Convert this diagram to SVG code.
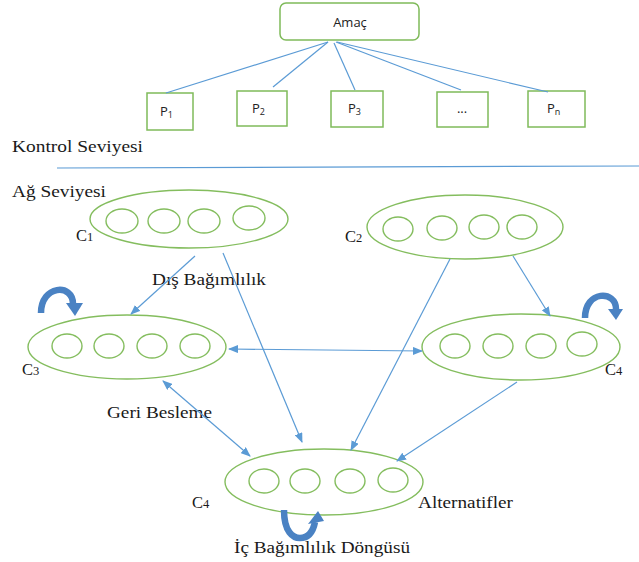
<svg xmlns="http://www.w3.org/2000/svg" width="639" height="562" viewBox="0 0 639 562">
  <style>
    .box { fill: #ffffff; stroke: #7fba5a; stroke-width: 1.5; }
    .ell { fill: none; stroke: #84bd5e; stroke-width: 1.4; }
    .link { fill: none; stroke: #5b9bd5; stroke-width: 1.2; }
    .loop { fill: none; stroke: #4a82c3; stroke-width: 6.5; }
    .head { fill: #4a82c3; }
    .sans { font-family: "Open Sans", "Noto Sans", "Liberation Sans", sans-serif; font-size: 13px; fill: #222; }
    .serif { font-family: "Liberation Serif", "DejaVu Serif", serif; font-size: 16.5px; fill: #1a1a1a; }
  </style>
  <defs>
    <marker id="arr" markerWidth="10" markerHeight="8" refX="9" refY="4" orient="auto-start-reverse" markerUnits="userSpaceOnUse">
      <path d="M0,0 L10,4 L0,8 z" fill="#5b9bd5"/>
    </marker>
  </defs>
  <rect width="639" height="562" fill="#ffffff"/>

  <!-- control level -->
  <g id="amac">
    <rect class="box" x="280" y="3" width="139" height="37" rx="6"/>
    <text class="sans" x="350" y="27" text-anchor="middle">Amaç</text>
  </g>
  <g id="p1">
    <rect class="box" x="147" y="93" width="46" height="37"/>
    <text class="sans" x="160" y="116">P<tspan font-size="9" dy="2">1</tspan></text>
  </g>
  <g id="p2">
    <rect class="box" x="237" y="91" width="50" height="35"/>
    <text class="sans" x="252" y="113">P<tspan font-size="9" dy="2">2</tspan></text>
  </g>
  <g id="p3">
    <rect class="box" x="331" y="91" width="52" height="36"/>
    <text class="sans" x="348" y="113">P<tspan font-size="9" dy="2">3</tspan></text>
  </g>
  <g id="pdots">
    <rect class="box" x="437" y="92" width="51" height="35"/>
    <text class="sans" x="462" y="113" text-anchor="middle">...</text>
  </g>
  <g id="pn">
    <rect class="box" x="528" y="91" width="57" height="36"/>
    <text class="sans" x="547" y="113">P<tspan font-size="9" dy="2">n</tspan></text>
  </g>

  <text class="serif" x="12" y="152" textLength="131" lengthAdjust="spacingAndGlyphs">Kontrol Seviyesi</text>
  <line x1="57" y1="168" x2="639" y2="166" stroke="#5b9bd5" stroke-width="1.2"/>
  <text class="serif" x="12" y="197" textLength="94" lengthAdjust="spacingAndGlyphs">Ağ Seviyesi</text>

  <!-- network clusters -->
  <g id="c1">
    <ellipse class="ell" cx="189" cy="219" rx="99" ry="29"/>
    <ellipse class="ell" cx="122" cy="221" rx="16" ry="12"/>
    <ellipse class="ell" cx="164" cy="221" rx="16" ry="12"/>
    <ellipse class="ell" cx="204" cy="221" rx="16" ry="12"/>
    <ellipse class="ell" cx="249" cy="218" rx="16" ry="12"/>
    <text class="serif" x="76" y="241">C<tspan font-size="12.5">1</tspan></text>
  </g>
  <g id="c2">
    <ellipse class="ell" cx="465" cy="227" rx="98" ry="32"/>
    <ellipse class="ell" cx="398" cy="229" rx="15" ry="12"/>
    <ellipse class="ell" cx="442" cy="228" rx="15" ry="12"/>
    <ellipse class="ell" cx="484" cy="227" rx="15" ry="12"/>
    <ellipse class="ell" cx="522" cy="227" rx="15" ry="12"/>
    <text class="serif" x="345" y="242">C<tspan font-size="12.5">2</tspan></text>
  </g>
  <g id="c3">
    <ellipse class="ell" cx="127" cy="347" rx="99" ry="32"/>
    <ellipse class="ell" cx="67" cy="346" rx="15" ry="12"/>
    <ellipse class="ell" cx="109" cy="346" rx="15" ry="12"/>
    <ellipse class="ell" cx="152" cy="346" rx="15" ry="12"/>
    <ellipse class="ell" cx="195" cy="346" rx="15" ry="12"/>
    <text class="serif" x="22" y="375">C<tspan font-size="12.5">3</tspan></text>
  </g>
  <g id="c4-right">
    <ellipse class="ell" cx="521" cy="347" rx="99" ry="33"/>
    <ellipse class="ell" cx="455" cy="346" rx="15" ry="12"/>
    <ellipse class="ell" cx="498" cy="346" rx="15" ry="12"/>
    <ellipse class="ell" cx="541" cy="346" rx="15" ry="12"/>
    <ellipse class="ell" cx="582" cy="344" rx="15" ry="12"/>
    <text class="serif" x="605" y="375">C<tspan font-size="12.5">4</tspan></text>
  </g>
  <g id="c4-bottom">
    <ellipse class="ell" cx="324" cy="482" rx="99" ry="33"/>
    <ellipse class="ell" cx="264" cy="481" rx="15" ry="12"/>
    <ellipse class="ell" cx="305" cy="481" rx="15" ry="12"/>
    <ellipse class="ell" cx="350" cy="481" rx="15" ry="12"/>
    <ellipse class="ell" cx="393" cy="480" rx="15" ry="12"/>
    <text class="serif" x="192" y="508">C<tspan font-size="12.5">4</tspan></text>
  </g>

  <!-- labels -->
  <text class="serif" x="152" y="285" textLength="114" lengthAdjust="spacingAndGlyphs">Dış Bağımlılık</text>
  <text class="serif" x="107" y="418" textLength="105" lengthAdjust="spacingAndGlyphs">Geri Besleme</text>
  <text class="serif" x="418" y="508" textLength="95" lengthAdjust="spacingAndGlyphs">Alternatifler</text>
  <text class="serif" x="234" y="553" textLength="176" lengthAdjust="spacingAndGlyphs">İç Bağımlılık Döngüsü</text>

  <!-- connectors -->
  <g id="connectors">
    <line class="link" x1="328" y1="42" x2="166" y2="93"/>
    <line class="link" x1="328" y1="42" x2="273" y2="87"/>
    <line class="link" x1="334" y1="43" x2="355" y2="90"/>
    <line class="link" x1="336" y1="42" x2="461" y2="90"/>
    <line class="link" x1="337" y1="42" x2="548" y2="92"/>

    <line class="link" x1="195" y1="256" x2="131" y2="314" marker-end="url(#arr)"/>
    <line class="link" x1="223" y1="253" x2="302" y2="442" marker-end="url(#arr)"/>
    <line class="link" x1="513" y1="256" x2="550" y2="316" marker-end="url(#arr)"/>
    <line class="link" x1="450" y1="259" x2="351" y2="450" marker-end="url(#arr)"/>
    <line class="link" x1="517" y1="382" x2="397" y2="461" marker-end="url(#arr)"/>
    <line class="link" x1="229" y1="349" x2="422" y2="351" marker-start="url(#arr)" marker-end="url(#arr)"/>
    <line class="link" x1="163" y1="381" x2="250" y2="456" marker-start="url(#arr)" marker-end="url(#arr)"/>

    <!-- self loops -->
    <path class="loop" d="M41,313 C41,285 73,283 73,304"/>
    <polygon class="head" points="66,303 83,303 75,316"/>
    <path class="loop" d="M585,318 C585,290 616,290 616,309"/>
    <polygon class="head" points="608,309 623,309 616,320"/>
    <path class="loop" d="M284,510 C284,532 293,538 300,538 C308,538 313,532 315,522" stroke-width="7.5"/>
    <polygon class="head" points="308,524 324,521 318,511"/>
  </g>
</svg>
